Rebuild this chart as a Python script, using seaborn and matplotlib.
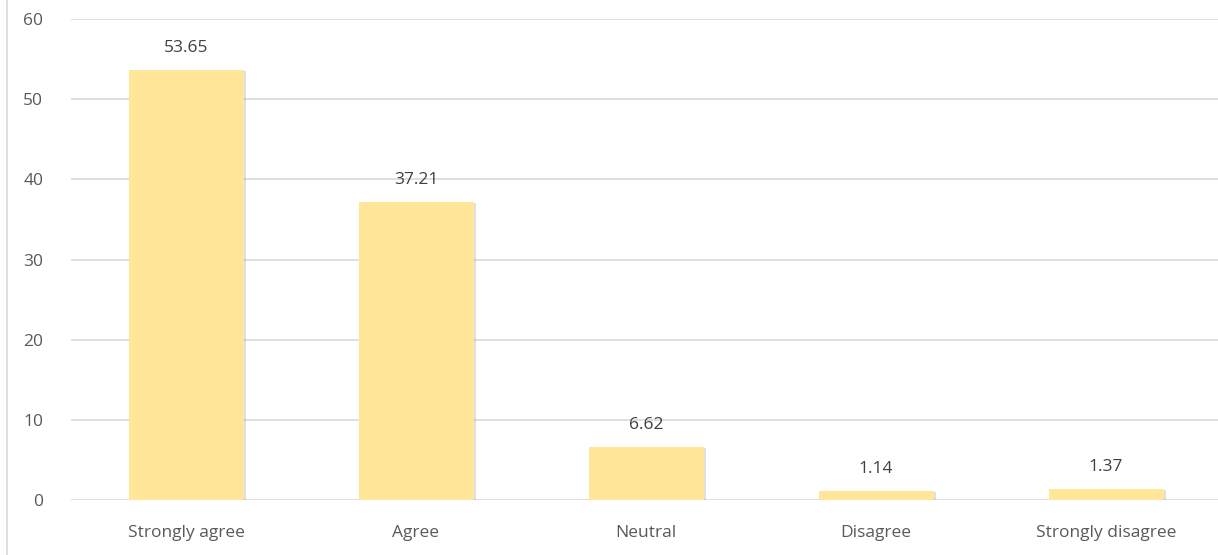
import pandas as pd
import seaborn as sns
import matplotlib.pyplot as plt
import matplotlib.patheffects as pe
from matplotlib.lines import Line2D

# Response categories and percentages
categories = ["Strongly agree", "Agree", "Neutral", "Disagree", "Strongly disagree"]
values = [53.65, 37.21, 6.62, 1.14, 1.37]
yticks = [0, 10, 20, 30, 40, 50, 60]

df = pd.DataFrame({"category": categories, "value": values})

sns.set_style("white")
plt.rcParams["font.family"] = ["Open Sans", "DejaVu Sans"]

fig = plt.figure(figsize=(12.18, 5.55), dpi=100)
ax = fig.add_axes([71 / 1218, 1 - 500 / 555, 1150 / 1218, 481 / 555])

sns.barplot(data=df, x="category", y="value", color="#FFE699", width=0.5,
            saturation=1, linewidth=0, ax=ax, zorder=3)

# soft shadow on the bars, like the office chart
for p in ax.patches:
    p.set_edgecolor("none")
    p.set_path_effects([pe.SimplePatchShadow(offset=(1.5, -1), shadow_rgbFace="#999999", alpha=0.3),
                        pe.Normal()])

for p, v in zip(ax.patches, values):
    ax.text(p.get_x() + p.get_width() / 2, v + 1.7, f"{v:.2f}",
            ha="center", va="bottom", fontsize=12.5, color="#404040")

ax.set_ylim(0, 60)
ax.set_xlim(-0.5, 4.5)
ax.set_yticks(yticks)
ax.yaxis.grid(True, color="#D9D9D9", linewidth=1.2, zorder=0)
ax.set_xlabel("")
ax.set_ylabel("")
ax.tick_params(axis="both", length=0, labelsize=12.5, labelcolor="#595959")
ax.tick_params(axis="x", pad=18)
ax.tick_params(axis="y", pad=20)
for s in ax.spines.values():
    s.set_visible(False)

# chart frame left edge
fig.add_artist(Line2D([7 / 1218, 7 / 1218], [0, 1], color="#D9D9D9", linewidth=1.2))

fig.savefig("out.png", dpi=100)
